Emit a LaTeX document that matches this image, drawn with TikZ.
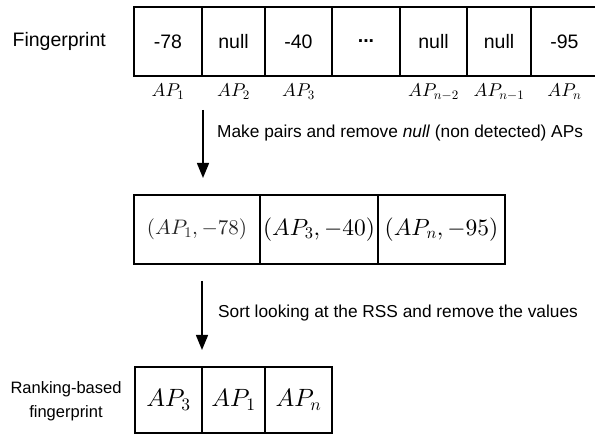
\documentclass[tikz,border=0pt]{standalone}
\usepackage[no-math]{fontspec}
\setmainfont{Liberation Sans}
\DeclareFontShape{OML}{cmm}{m}{it}{<->cmmi10}{}
\DeclareFontShape{OT1}{cmr}{m}{n}{<->cmr10}{}
\DeclareFontShape{OMS}{cmsy}{m}{n}{<->cmsy10}{}
\usetikzlibrary{arrows.meta}
\begin{document}
\begin{tikzpicture}[x=1pt,y=-1pt,
  every node/.style={inner sep=0pt},
  sf/.style={font=\fontsize{17.3}{25}\selectfont},
  cell/.style={draw, line width=1.3pt, font=\fontsize{19.5}{22}\selectfont},
  lbl/.style={font=\fontsize{18.5}{22}\selectfont},
  pair/.style={draw, line width=1.3pt, font=\fontsize{23.5}{26}\selectfont},
  rank/.style={draw, line width=1.3pt, font=\fontsize{25}{28}\selectfont},
  arr/.style={line width=1.5pt, -{Triangle[width=12pt,length=15pt]}}]
\useasboundingbox (0,0) rectangle (595,435);
% row 1
\node[font=\fontsize{19.5}{22}\selectfont, anchor=east] (fp) at (106,41) {Fingerprint};
\node[cell, minimum width=68pt, minimum height=69pt] (f1) at (168,41.5) {-78};
\node[cell, minimum width=63pt, minimum height=69pt] (f2) at (233.5,41.5) {null};
\node[cell, minimum width=67pt, minimum height=69pt] (f3) at (298.5,41.5) {-40};
\node[cell, minimum width=68pt, minimum height=69pt] (f4) at (366,41.5) {\textbf{...}};
\node[cell, minimum width=67pt, minimum height=69pt] (f5) at (433.5,41.5) {null};
\node[cell, minimum width=64pt, minimum height=69pt] (f6) at (499,41.5) {null};
\node[cell, minimum width=67pt, minimum height=69pt] (f7) at (564.5,41.5) {-95};
\node[lbl] (l1) at (168,92) {$AP_1$};
\node[lbl] (l2) at (233.5,92) {$AP_2$};
\node[lbl] (l3) at (298.5,92) {$AP_3$};
\node[lbl] (l5) at (433.5,92) {$AP_{n-2}$};
\node[lbl] (l6) at (499,92) {$AP_{n-1}$};
\node[lbl] (l7) at (564.5,92) {$AP_n$};
% arrow 1
\coordinate (a1s) at (203,110);
\coordinate (a1e) at (203,178);
\draw[arr] (a1s) -- (a1e);
\node[sf, anchor=west] (t1) at (217,133) {Make pairs and remove \textit{null} (non detected) APs};
% row 2
\node[pair, minimum width=126pt, minimum height=69pt, text=black!85, font=\fontsize{21}{24}\selectfont] (p1) at (197,229.5) {$(AP_1,-78)$};
\node[pair, minimum width=118pt, minimum height=69pt] (p2) at (319,229.5) {$(AP_3,-40)$};
\node[pair, minimum width=127pt, minimum height=69pt] (p3) at (441.5,229.5) {$(AP_n,-95)$};
% arrow 2
\coordinate (a2s) at (202,281);
\coordinate (a2e) at (202,350);
\draw[arr] (a2s) -- (a2e);
\node[sf, anchor=west] (t2) at (218,313) {Sort looking at the RSS and remove the values};
% row 3
\node[font=\fontsize{16.5}{24}\selectfont, align=center] (rk) at (66,401) {Ranking-based\\fingerprint};
\node[rank, minimum width=67pt, minimum height=66pt] (r1) at (168.5,400) {$AP_3$};
\node[rank, minimum width=63pt, minimum height=66pt] (r2) at (233.5,400) {$AP_1$};
\node[rank, minimum width=67pt, minimum height=66pt] (r3) at (298.5,400) {$AP_n$};
\end{tikzpicture}
\end{document}
